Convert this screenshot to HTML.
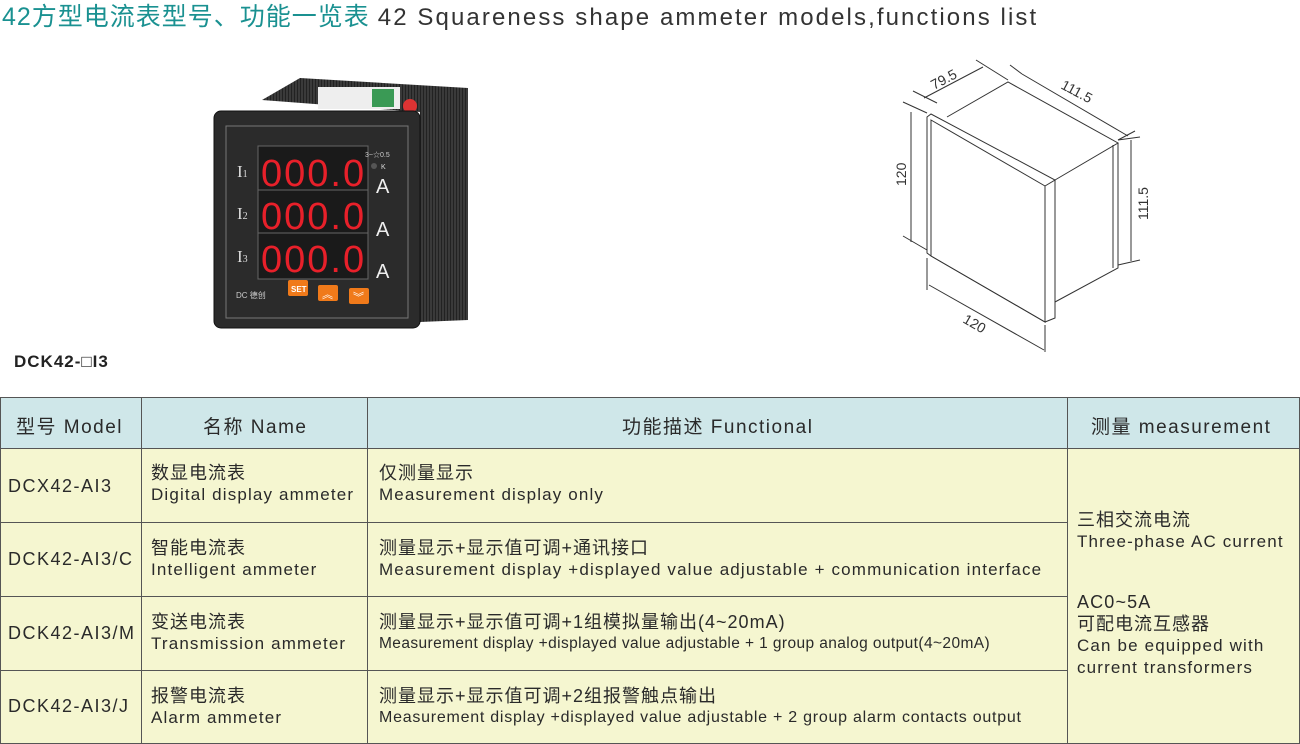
<!DOCTYPE html>
<html><head><meta charset="utf-8">
<style>
*{margin:0;padding:0;box-sizing:border-box}
body{width:1300px;height:744px;background:#fff;position:relative;overflow:hidden;font-family:"Liberation Sans","Noto Sans CJK SC",sans-serif;color:#2a2a2a}
.a{position:absolute;white-space:nowrap}
.cell{position:absolute;border-right:1px solid #555;border-bottom:1px solid #555}
.cn{font-size:18px;letter-spacing:1px;line-height:22px}
.en{font-size:17px;line-height:22px;letter-spacing:1.15px}
.h{font-size:19px;letter-spacing:1.5px}
.m{font-size:18px;letter-spacing:1.5px}
</style></head><body>
<div class="a" style="left:2px;top:-3px;font-size:25px;color:#1a9191;letter-spacing:1px">42方型电流表型号、功能一览表 <span style="color:#333;font-size:24px;letter-spacing:2.1px">42 Squareness shape ammeter models,functions list</span></div>

<!-- device photo -->
<svg class="a" style="left:0;top:0" width="700" height="390">
<defs><pattern id="rib" width="3" height="4" patternUnits="userSpaceOnUse"><rect width="3" height="4" fill="#3a3a3a"/><rect width="1" height="4" fill="#222"/></pattern></defs>
<polygon points="262,100 300,78 468,88 468,320 420,322 420,112" fill="url(#rib)"/>
<rect x="318" y="87" width="82" height="22" fill="#eee"/>
<rect x="372" y="89" width="22" height="18" fill="#3a9a55"/>
<circle cx="410" cy="106" r="7" fill="#d33"/>
<rect x="214" y="111" width="206" height="217" rx="7" fill="#2b2b2b" stroke="#111"/>
<rect x="226" y="126" width="182" height="192" fill="none" stroke="#777" stroke-width="1"/>
<rect x="258" y="146" width="110" height="133" fill="#1a1a1a" stroke="#666"/>
<line x1="258" y1="190" x2="368" y2="190" stroke="#666"/>
<line x1="258" y1="233" x2="368" y2="233" stroke="#666"/>
<g font-family="Liberation Sans,sans-serif" font-size="38" fill="#e8202a" letter-spacing="2">
<text x="261" y="186">000.0</text><text x="261" y="229">000.0</text><text x="261" y="272">000.0</text></g>
<g font-family="Liberation Serif,serif" font-size="17" fill="#ddd">
<text x="237" y="177">I<tspan font-size="10">1</tspan></text><text x="237" y="219">I<tspan font-size="10">2</tspan></text><text x="237" y="262">I<tspan font-size="10">3</tspan></text></g>
<g font-size="20" fill="#eee" font-family="Liberation Sans,sans-serif"><text x="376" y="193">A</text><text x="376" y="236">A</text><text x="376" y="278">A</text></g>
<text x="365" y="157" font-size="7" fill="#ccc">3~☆0.5</text>
<circle cx="374" cy="166" r="3" fill="#555"/><text x="381" y="169" font-size="7" fill="#ddd">K</text>
<rect x="288" y="280" width="20" height="16" rx="2" fill="#f07a1a"/><text x="291" y="292" font-size="8" fill="#fff" font-weight="bold">SET</text>
<rect x="318" y="285" width="20" height="16" rx="2" fill="#f07a1a"/><text x="322" y="298" font-size="11" fill="#fff">︽</text>
<rect x="349" y="288" width="20" height="16" rx="2" fill="#f07a1a"/><text x="353" y="301" font-size="11" fill="#fff">︾</text>
<text x="236" y="298" font-size="8" fill="#ccc">DC 德创</text>
</svg>
<div class="a" style="left:14px;top:352px;font-size:17px;font-weight:bold;color:#222;letter-spacing:1px">DCK42-□I3</div>

<!-- dimension drawing -->
<svg class="a" style="left:0;top:0" width="1300" height="390" fill="none" stroke="#333" stroke-width="1">
<polygon points="927,117 931,114 1055,180 1045,186 1045,322 931,256 927,253"/>
<polygon points="931,120 1045,186 1045,322 931,256"/>
<polyline points="947,117 1008,82 1118,143 1055,180"/>
<polyline points="1055,180 1055,318 1045,322"/>
<polyline points="1118,143 1118,268 1055,302"/>
<line x1="1113" y1="145" x2="1113" y2="268"/>
<line x1="903" y1="102" x2="927" y2="113"/><line x1="903" y1="236" x2="927" y2="250"/>
<line x1="911" y1="112" x2="911" y2="242"/>
<line x1="913" y1="91" x2="937" y2="103"/><line x1="976" y1="60" x2="1008" y2="80"/>
<line x1="924" y1="98" x2="983" y2="67"/>
<line x1="1022" y1="74" x2="1128" y2="136"/><line x1="1010" y1="65" x2="1022" y2="74"/><line x1="1118" y1="140" x2="1135" y2="131"/>
<line x1="1118" y1="140" x2="1140" y2="137"/><line x1="1118" y1="265" x2="1140" y2="260"/>
<line x1="1131" y1="140" x2="1131" y2="261"/>
<line x1="927" y1="258" x2="927" y2="290"/><line x1="1045" y1="325" x2="1045" y2="352"/>
<line x1="929" y1="285" x2="1044" y2="350"/>
<g stroke="none" fill="#333" font-family="Liberation Sans,sans-serif" font-size="14">
<text x="0" y="0" transform="translate(934,90) rotate(-28)">79.5</text>
<text x="0" y="0" transform="translate(1060,88) rotate(28)">111.5</text>
<text x="0" y="0" transform="translate(906,186) rotate(-90)">120</text>
<text x="0" y="0" transform="translate(1148,220) rotate(-90)">111.5</text>
<text x="0" y="0" transform="translate(962,322) rotate(30)">120</text></g>
</svg>

<!-- table -->
<div class="a" style="left:0;top:397px;width:1300px;height:347px;border-top:1px solid #555;border-left:1px solid #555"></div>
<div class="cell" style="left:0;top:398px;width:142px;height:51px;background:#cfe7e9;border-left:1px solid #555"></div>
<div class="cell" style="left:142px;top:398px;width:226px;height:51px;background:#cfe7e9"></div>
<div class="cell" style="left:368px;top:398px;width:700px;height:51px;background:#cfe7e9"></div>
<div class="cell" style="left:1068px;top:398px;width:232px;height:51px;background:#cfe7e9"></div>
<div class="a h" style="left:16px;top:412px">型号 Model</div>
<div class="a h" style="left:203px;top:412px">名称 Name</div>
<div class="a h" style="left:622px;top:412px">功能描述 Functional</div>
<div class="a h" style="left:1091px;top:412px">测量 measurement</div>

<div class="cell" style="left:0;top:449px;width:142px;height:74px;background:#f5f6d0;border-left:1px solid #555"></div>
<div class="cell" style="left:142px;top:449px;width:226px;height:74px;background:#f5f6d0"></div>
<div class="cell" style="left:368px;top:449px;width:700px;height:74px;background:#f5f6d0"></div>
<div class="cell" style="left:0;top:523px;width:142px;height:74px;background:#f5f6d0;border-left:1px solid #555"></div>
<div class="cell" style="left:142px;top:523px;width:226px;height:74px;background:#f5f6d0"></div>
<div class="cell" style="left:368px;top:523px;width:700px;height:74px;background:#f5f6d0"></div>
<div class="cell" style="left:0;top:597px;width:142px;height:74px;background:#f5f6d0;border-left:1px solid #555"></div>
<div class="cell" style="left:142px;top:597px;width:226px;height:74px;background:#f5f6d0"></div>
<div class="cell" style="left:368px;top:597px;width:700px;height:74px;background:#f5f6d0"></div>
<div class="cell" style="left:0;top:671px;width:142px;height:73px;background:#f5f6d0;border-left:1px solid #555"></div>
<div class="cell" style="left:142px;top:671px;width:226px;height:73px;background:#f5f6d0"></div>
<div class="cell" style="left:368px;top:671px;width:700px;height:73px;background:#f5f6d0"></div>
<div class="cell" style="left:1068px;top:449px;width:232px;height:295px;background:#f5f6d0"></div>

<div class="a m" style="left:8px;top:476px">DCX42-AI3</div>
<div class="a" style="left:151px;top:462px"><div class="cn">数显电流表</div><div class="en">Digital display ammeter</div></div>
<div class="a" style="left:379px;top:462px"><div class="cn">仅测量显示</div><div class="en">Measurement display only</div></div>

<div class="a m" style="left:8px;top:549px">DCK42-AI3/C</div>
<div class="a" style="left:151px;top:537px"><div class="cn">智能电流表</div><div class="en">Intelligent ammeter</div></div>
<div class="a" style="left:379px;top:537px"><div class="cn">测量显示+显示值可调+通讯接口</div><div class="en">Measurement display +displayed value adjustable + communication interface</div></div>

<div class="a m" style="left:8px;top:623px">DCK42-AI3/M</div>
<div class="a" style="left:151px;top:611px"><div class="cn">变送电流表</div><div class="en">Transmission ammeter</div></div>
<div class="a" style="left:379px;top:611px"><div class="cn">测量显示+显示值可调+1组模拟量输出(4~20mA)</div><div class="en" style="font-size:15.5px;letter-spacing:0.4px">Measurement display +displayed value adjustable + 1 group analog output(4~20mA)</div></div>

<div class="a m" style="left:8px;top:696px">DCK42-AI3/J</div>
<div class="a" style="left:151px;top:685px"><div class="cn">报警电流表</div><div class="en">Alarm ammeter</div></div>
<div class="a" style="left:379px;top:685px"><div class="cn">测量显示+显示值可调+2组报警触点输出</div><div class="en" style="font-size:16px;letter-spacing:0.75px">Measurement display +displayed value adjustable + 2 group alarm contacts output</div></div>

<div class="a" style="left:1077px;top:509px"><div class="cn">三相交流电流</div><div class="en">Three-phase AC current</div></div>
<div class="a" style="left:1077px;top:591px"><div class="en" style="font-size:18px">AC0~5A</div><div class="cn">可配电流互感器</div><div class="en">Can be equipped with</div><div class="en">current transformers</div></div>
</body></html>
